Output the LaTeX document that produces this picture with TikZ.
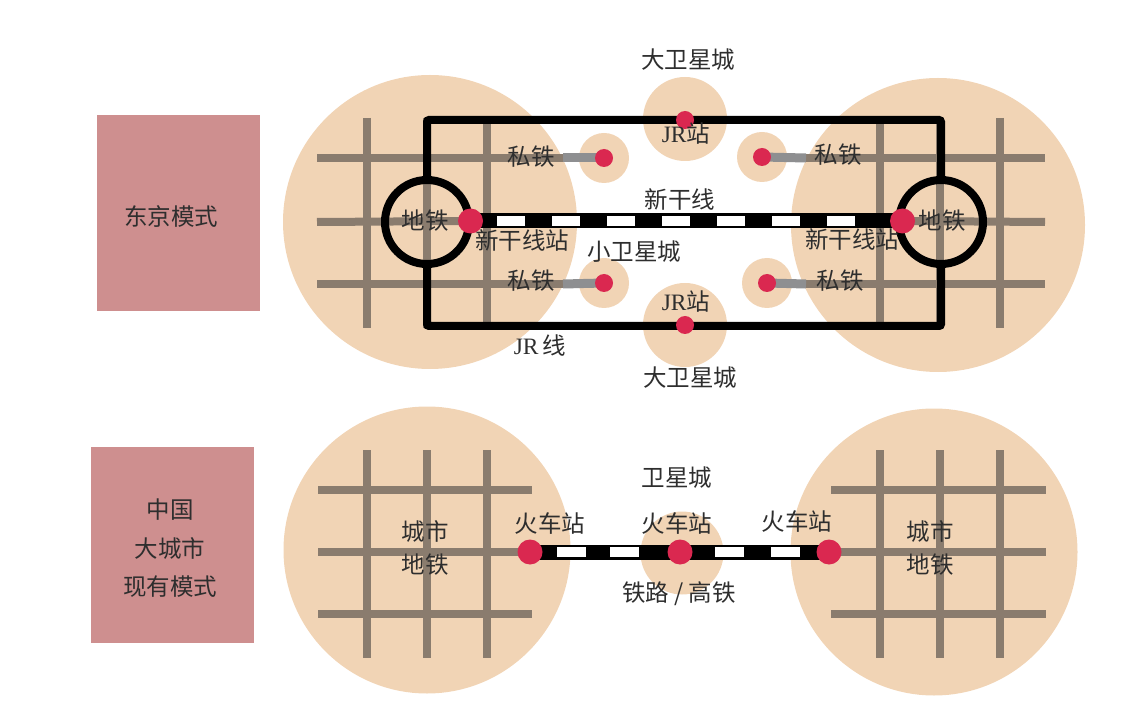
\documentclass[tikz,border=0pt]{standalone}
\usepackage{fontspec}
\setmainfont{Liberation Serif}
\newfontfamily\cjk{Noto Sans CJK SC}
\usepackage{xcolor}
\usepackage{tikz}
\usetikzlibrary{positioning,calc}
\definecolor{diskBeige}{HTML}{F1D4B5}
\definecolor{gridBrown}{HTML}{8A7C6E}
\definecolor{privGray}{HTML}{8E8F91}
\definecolor{dotRed}{HTML}{DA2850}
\definecolor{boxPink}{HTML}{CE8F8F}
\definecolor{labelGray}{HTML}{2E2E2E}
\tikzset{
  cityDisk/.style={
    circle,
    fill=diskBeige,
    inner sep=0pt,
    minimum size=#1
  },
  gridLine/.style={
    draw=gridBrown,
    line width=8pt
  },
  privLine/.style={
    draw=privGray,
    line width=9pt
  },
  jrLine/.style={
    draw=black,
    line width=8pt,
    rounded corners=2pt
  },
  subwayRing/.style={
    circle,
    draw=black,
    line width=8pt,
    inner sep=0pt,
    minimum size=84pt
  },
  stationDot/.style={
    circle,
    fill=dotRed,
    inner sep=0pt,
    minimum size=#1
  },
  railBase/.style={
    draw=black,
    line width=15pt
  },
  railDash/.style={
    draw=white,
    line width=10pt,
    dash pattern=on 28pt off 27pt
  },
  labelText/.style={
    text=labelGray,
    font=\cjk\fontsize{23.5}{27}\selectfont,
    inner sep=0pt
  },
  modeBox/.style={
    rectangle,
    fill=boxPink,
    minimum width=163pt,
    minimum height=196pt
  }
}

\begin{document}
\begin{tikzpicture}[x=1pt,y=-1pt]
        \useasboundingbox (0,0) rectangle (1132,708);

        % Tokyo model
        \node[modeBox] (tokyoBox) at (178.5,213.5) {};
        \node[labelText] (lblTokyo) at (171,217) {东京模式};

        \node[cityDisk=294pt] (cityL) at (430,222) {};
        \node[cityDisk=294pt] (cityR) at (938,225) {};
        \node[cityDisk=84pt] (bigSatN) at (685,119) {};
        \node[cityDisk=84pt] (bigSatS) at (685,325) {};
        \node[cityDisk=50pt] (smallSatNW) at (604,158) {};
        \node[cityDisk=50pt] (smallSatNE) at (762,157) {};
        \node[cityDisk=50pt] (smallSatSW) at (604,283) {};
        \node[cityDisk=50pt] (smallSatSE) at (767,283) {};

        \foreach \x in {367,427,487} \draw[gridLine] (\x,118) -- (\x,328);
        \foreach \x in {880,940,1000} \draw[gridLine] (\x,118) -- (\x,328);
        \foreach \y in {158,284} \draw[gridLine] (317,\y) -- (563,\y);
        \foreach \y in {158,284} \draw[gridLine] (806,\y) -- (1045,\y);

        \coordinate (shinL) at (470.5,221);
        \coordinate (shinR) at (902.5,221);
        \coordinate (gridWestEnd) at (317,222);
        \coordinate (gridEastEnd) at (1045,222);
        \draw[gridLine] (gridWestEnd) -- (shinL);
        \draw[gridLine] (shinR) -- (gridEastEnd);

        \coordinate (edgeNW) at (563,158);
        \coordinate (edgeSW) at (563,284);
        \coordinate (edgeNE) at (806,158);
        \coordinate (edgeSE) at (806,284);
        \draw[privLine] (smallSatNW.center) -- (edgeNW);
        \draw[privLine] (smallSatSW.center) -- (edgeSW);
        \draw[privLine] (smallSatNE.center) -- (edgeNE);
        \draw[privLine] (smallSatSE.center) -- (edgeSE);

        \node[subwayRing] (subL) at (427,222) {};
        \node[subwayRing] (subR) at (941,222) {};
        \coordinate (cornerNW) at (427,120);
        \coordinate (cornerNE) at (941,120);
        \coordinate (cornerSW) at (427,326);
        \coordinate (cornerSE) at (941,326);
        \draw[jrLine] (subL.north) -- (cornerNW) -- (cornerNE) -- (subR.north);
        \draw[jrLine] (subL.south) -- (cornerSW) -- (cornerSE) -- (subR.south);

        \draw[railBase] (shinL) -- (shinR);
        \draw[railDash, shorten <=26.5pt, shorten >=22pt] (shinL) -- (shinR);

        \node[stationDot=25pt] (shinDotL) at (shinL) {};
        \node[stationDot=25pt] (shinDotR) at (shinR) {};
        \node[stationDot=18pt] (jrDotN) at (685,120) {};
        \node[stationDot=18pt] (jrDotS) at (685,325) {};
        \node[stationDot=18pt] (privDotNW) at (smallSatNW) {};
        \node[stationDot=18pt] (privDotNE) at (smallSatNE) {};
        \node[stationDot=18pt] (privDotSW) at (smallSatSW) {};
        \node[stationDot=18pt] (privDotSE) at (smallSatSE) {};

        \node[labelText] (lblBigSatN) at (688,60) {大卫星城};
        \node[labelText] (lblBigSatS) at (690,378) {大卫星城};
        \node[labelText] (lblJrN) at (686,134) {{\rmfamily JR}站};
        \node[labelText] (lblJrS) at (686,302) {{\rmfamily JR}站};
        \node[labelText] (lblPrivNW) at (531,157) {私铁};
        \node[labelText] (lblPrivSW) at (531,281) {私铁};
        \node[labelText] (lblPrivNE) at (838,155) {私铁};
        \node[labelText] (lblPrivSE) at (840,281) {私铁};
        \node[labelText] (lblShin) at (680,200) {新干线};
        \node[labelText] (lblSubL) at (425,221) {地铁};
        \node[labelText] (lblSubR) at (942,221) {地铁};
        \node[labelText] (lblShinStL) at (522,241) {新干线站};
        \node[labelText] (lblShinStR) at (852,240) {新干线站};
        \node[labelText] (lblSmallSat) at (634,252) {小卫星城};
        \node[labelText] (lblJrLine) at (540,346) {{\rmfamily JR}\hspace{4pt}线};

        % China model
        \node[modeBox] (chinaBox) at (172,544.5) {};
        \node[labelText, align=center, font=\cjk\fontsize{23.5}{38.5}\selectfont] (lblChina) at (170,548.5) {中国\\大城市\\现有模式};

        \node[cityDisk=287pt] (cityChinaL) at (427,550) {};
        \node[cityDisk=287pt] (cityChinaR) at (934,552) {};
        \node[cityDisk=83pt] (satChina) at (682,553) {};

        \foreach \x in {367,427,487} \draw[gridLine] (\x,450) -- (\x,658);
        \foreach \x in {880,940,1000} \draw[gridLine] (\x,450) -- (\x,658);
        \foreach \y in {490,614} \draw[gridLine] (318,\y) -- (532,\y);
        \foreach \y in {490,614} \draw[gridLine] (831,\y) -- (1046,\y);

        \coordinate (trainL) at (530,552);
        \coordinate (trainM) at (680,552);
        \coordinate (trainR) at (829,552);
        \coordinate (gridChinaW) at (318,552);
        \coordinate (gridChinaE) at (1046,552);
        \draw[gridLine] (gridChinaW) -- (trainL);
        \draw[gridLine] (trainR) -- (gridChinaE);

        \draw[railBase] (trainL) -- (trainM);
        \draw[railBase] (trainM) -- (trainR);
        \draw[railDash, dash pattern=on 29pt off 24pt, shorten <=27pt, shorten >=22pt] (trainL) -- (trainM);
        \draw[railDash, dash pattern=on 29pt off 27pt, shorten <=35pt, shorten >=27pt] (trainM) -- (trainR);

        \node[stationDot=25pt] (trainDotL) at (trainL) {};
        \node[stationDot=25pt] (trainDotM) at (trainM) {};
        \node[stationDot=25pt] (trainDotR) at (trainR) {};

        \node[labelText] (lblSatChina) at (677,478) {卫星城};
        \node[labelText] (lblTrainL) at (550,524) {火车站};
        \node[labelText] (lblTrainM) at (677,524) {火车站};
        \node[labelText] (lblTrainR) at (797,522) {火车站};
        \node[labelText] (lblRail) at (679,594) {铁路 / 高铁};
        \node[labelText, align=center, font=\cjk\fontsize{23.5}{33}\selectfont] (lblMetroL) at (425,548) {城市\\地铁};
        \node[labelText, align=center, font=\cjk\fontsize{23.5}{33}\selectfont] (lblMetroR) at (930,548) {城市\\地铁};
    \end{tikzpicture}
\end{document}
